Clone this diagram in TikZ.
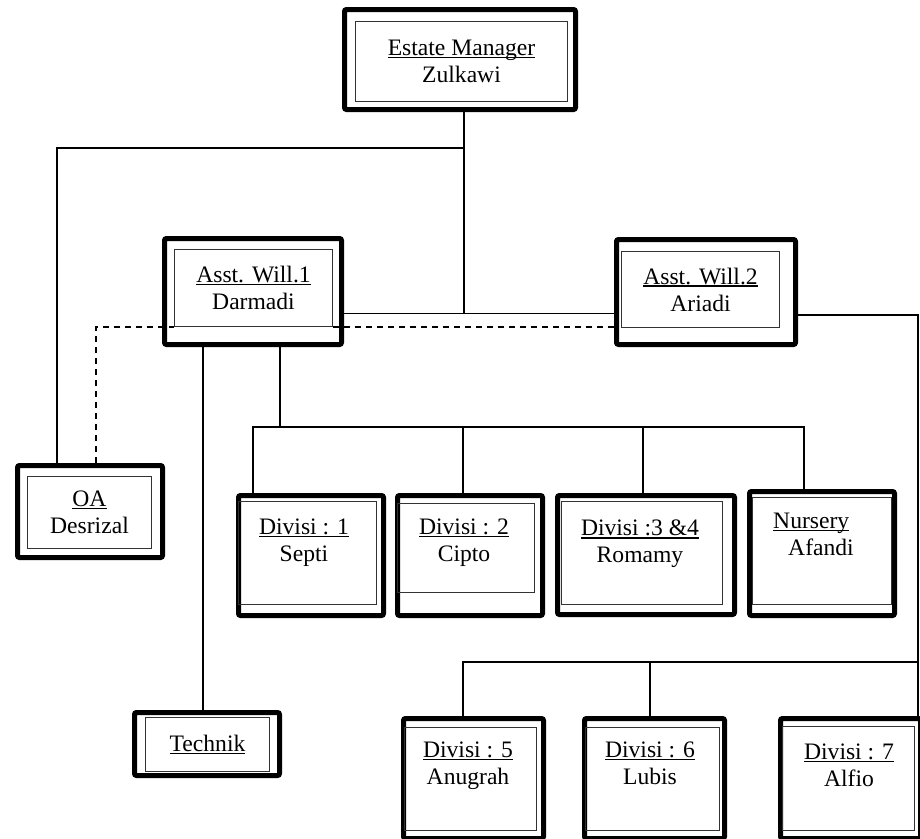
\documentclass[tikz,border=0pt]{standalone}
\usepackage{fontspec}
\setmainfont{Liberation Serif}
\usetikzlibrary{positioning}
\newcommand\ulbl[1]{\setbox0=\hbox{#1}\rlap{\rule[-2.6pt]{\wd0}{1.4pt}}\box0}

\begin{document}
\begin{tikzpicture}[x=1pt, y=-1pt,
    font=\fontsize{23.6}{27}\selectfont,
    outer/.style={draw, line width=5pt, rounded corners=2pt, fill=white},
    inner/.style={draw=black!80, line width=1pt, align=center, inner sep=0pt},
    lab/.style={align=center, inner sep=0pt},
    link/.style={line width=1.6pt},
    dashlink/.style={line width=1.8pt, dash pattern=on 6pt off 5pt}]
  \clip (0,0) rectangle (920,838);
  % top
  \node[outer, minimum width=231pt, minimum height=100pt] (em) at (460,59.5) {};
  \node[inner, minimum width=212pt, minimum height=80pt] (emi) at (461.5,61.5) {\ulbl{Estate Manager}\\Zulkawi};
  \node[outer, minimum width=177pt, minimum height=106pt] (aw1) at (253,291.5) {};
  \node[inner, minimum width=158pt, minimum height=77pt] (aw1i) at (253.5,288) {\ulbl{Asst. Will.1}\\Darmadi};
  \node[outer, minimum width=179pt, minimum height=105pt] (aw2) at (706,292) {};
  \node[inner, minimum width=158pt, minimum height=76pt] (aw2i) at (700.5,289.5) {\ulbl{Asst. Will.2}\\Ariadi};
  \node[outer, minimum width=145pt, minimum height=92pt] (oa) at (90,511.5) {};
  \node[inner, minimum width=124pt, minimum height=72pt] (oai) at (89.5,512.5) {\ulbl{OA}\\Desrizal};
  \node[outer, minimum width=145pt, minimum height=63pt] (tec) at (207,744) {};
  \node[inner, minimum width=124pt, minimum height=54pt] (teci) at (207.5,744.5) {\ulbl{Technik}};
  % divisi under Asst. Will.1
  \node[outer, minimum width=145pt, minimum height=120pt] (d1) at (311,555.5) {};
  \node[inner, minimum width=138pt, minimum height=103pt] (d1i) at (307.5,553) {};
  \node[lab, anchor=north] (d1t) at (304,519) {\ulbl{Divisi : 1}\\Septi};
  \node[outer, minimum width=145pt, minimum height=120pt] (d2) at (470,555.5) {};
  \node[inner, minimum width=137pt, minimum height=89pt] (d2i) at (466,548) {};
  \node[lab, anchor=north] (d2t) at (464,519) {\ulbl{Divisi : 2}\\Cipto};
  \node[outer, minimum width=177pt, minimum height=119pt] (d34) at (646,555) {};
  \node[inner, minimum width=161pt, minimum height=103pt] (d34i) at (642,553) {};
  \node[lab, anchor=north] (d34t) at (640,520) {\ulbl{Divisi :3 \&4}\\Romamy};
  \node[outer, minimum width=145pt, minimum height=124pt] (nur) at (822,553.5) {};
  \node[inner, minimum width=139pt, minimum height=107pt] (nuri) at (822,551) {};
  \node[lab, align=left, anchor=north west] (nurt) at (773,513) {\ulbl{Nursery}\\\hspace*{15pt}Afandi};
  % divisi under Asst. Will.2
  \node[outer, minimum width=140pt, minimum height=120pt] (d5) at (473.5,778.5) {};
  \node[inner, minimum width=132pt, minimum height=103pt] (d5i) at (470.5,779) {};
  \node[lab, anchor=north] (d5t) at (468,742) {\ulbl{Divisi : 5}\\Anugrah};
  \node[outer, minimum width=140pt, minimum height=120pt] (d6) at (654.5,778.5) {};
  \node[inner, minimum width=134pt, minimum height=103pt] (d6i) at (652.5,779) {};
  \node[lab, anchor=north] (d6t) at (650,742) {\ulbl{Divisi : 6}\\Lubis};
  \node[outer, minimum width=140pt, minimum height=120pt] (d7) at (850.5,778.5) {};
  \node[inner, minimum width=132pt, minimum height=104pt] (d7i) at (848.5,778.5) {};
  \node[lab, anchor=north] (d7t) at (849,744) {\ulbl{Divisi : 7}\\Alfio};
  % lines
  \coordinate (emdown) at ([xshift=4pt]em.south);
  \coordinate (oabranch) at ([yshift=-36pt]emdown);
  \coordinate (asstbus) at ([yshift=-22pt]aw1.east -| emdown);
  \draw[link] (emdown) -- (asstbus);
  \draw[link] (oabranch) -| ([xshift=-33pt]oa.north);
  \draw[link] ([yshift=-22pt]aw1.east) -- ([yshift=-22pt]aw1.east -| aw2.west);
  \draw[link] ([yshift=-23pt]aw2.east) -| ([xshift=67.5pt]d7.north);
  \draw[dashlink] ([xshift=6pt]oa.north) |- (aw1i.south west);
  \draw[dashlink] (aw1i.south east) -- (aw1i.south east -| aw2.west);
  \draw[link] ([xshift=-50pt]aw1.south) -- ([xshift=-4pt]tec.north);
  \coordinate (divbus) at ([xshift=27pt,yshift=-80pt]aw1.south);
  \draw[link] ([xshift=27pt]aw1.south) -- (divbus);
  \draw[link] ([xshift=-58pt]d1.north) |- (divbus) -| ([xshift=-18pt]nur.north);
  \draw[link] ([xshift=-7pt]d2.north) -- ([xshift=-7pt]d2.north |- divbus);
  \draw[link] ([xshift=-3pt]d34.north) -- ([xshift=-3pt]d34.north |- divbus);
  \coordinate (div2bus) at ([xshift=67.5pt,yshift=54pt]d7.north);
  \draw[link] (div2bus) -| ([xshift=-10.5pt]d5.north);
  \draw[link] ([xshift=-4.5pt]d6.north) -- ([xshift=-4.5pt]d6.north |- div2bus);
\end{tikzpicture}
\end{document}
